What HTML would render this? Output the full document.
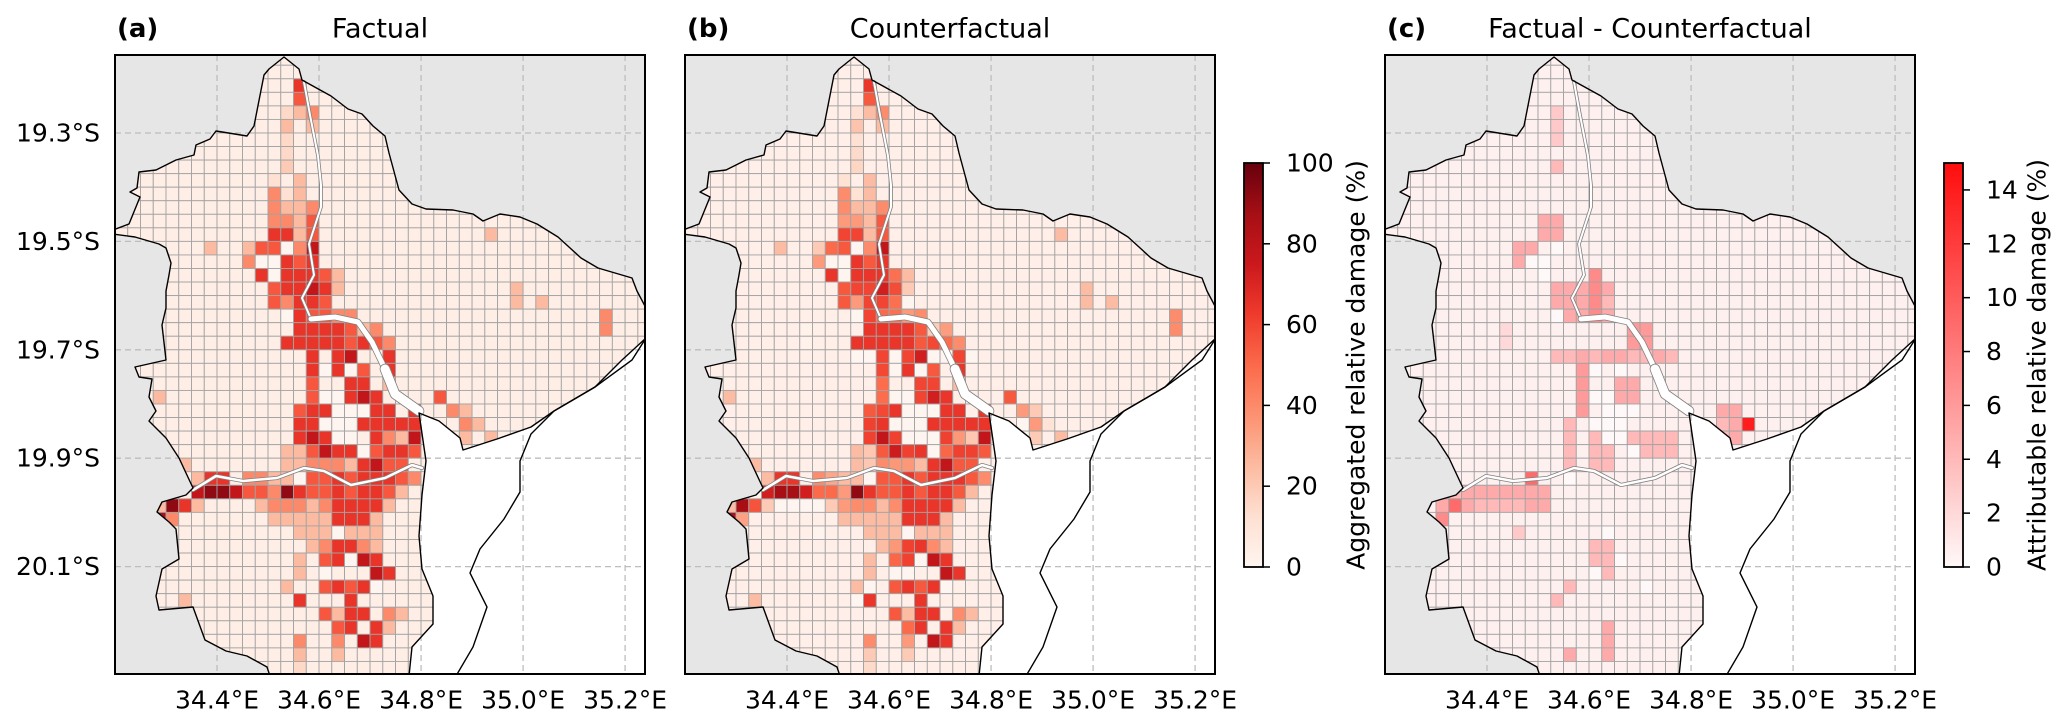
<!DOCTYPE html>
<html><head><meta charset="utf-8"><title>Factual vs Counterfactual damage</title>
<style>
html,body{margin:0;padding:0;background:#fff;}
svg{display:block;font-family:"DejaVu Sans","Liberation Sans",sans-serif;}
</style></head>
<body>
<svg id="fig" width="2067" height="727" viewBox="0 0 2067 727" xmlns="http://www.w3.org/2000/svg">
<defs>
<linearGradient id="redsGrad" x1="0" y1="1" x2="0" y2="0">
<stop offset="0" stop-color="#fff5f0"/><stop offset="0.125" stop-color="#fee0d2"/><stop offset="0.25" stop-color="#fcbba1"/><stop offset="0.375" stop-color="#fc9272"/><stop offset="0.5" stop-color="#fb6a4a"/><stop offset="0.625" stop-color="#ef3b2c"/><stop offset="0.75" stop-color="#cb181d"/><stop offset="0.875" stop-color="#a50f15"/><stop offset="1" stop-color="#67000d"/>
</linearGradient>
<linearGradient id="diffGrad" x1="0" y1="1" x2="0" y2="0">
<stop offset="0" stop-color="#fff8f8"/><stop offset="1" stop-color="#ff0d0d"/>
</linearGradient>
</defs>
<g id="panels"></g>
<g id="cbars"></g>
</svg>
<script>
// ---- data ----
const lonTicks = [34.4, 34.6, 34.8, 35.0, 35.2];
const latTicks = [19.3, 19.5, 19.7, 19.9, 20.1];
const lonTickLabels = ["34.4°E", "34.6°E", "34.8°E", "35.0°E", "35.2°E"];
const latTickLabels = ["19.3°S", "19.5°S", "19.7°S", "19.9°S", "20.1°S"];
const damageTicks = [0, 20, 40, 60, 80, 100];
const diffTicks = [0, 2, 4, 6, 8, 10, 12, 14];
const factualBase = 4;
const diffBase = 0.5;
// [row, col, factual damage %]
const factualCells = [
[2,14,65],[3,14,55],[4,14,25],[4,15,40],[4,13,15],[5,13,25],[5,15,25],[6,13,15],[7,13,15],[8,13,20],
[9,14,25],[9,12,12],[10,12,40],[10,13,12],[10,14,25],[11,12,40],[11,13,25],[11,14,25],[11,15,40],
[12,12,40],[12,13,40],[12,14,25],[12,15,55],[13,12,65],[13,13,65],[13,14,25],[13,15,55],[13,29,25],
[14,7,25],[14,10,25],[14,11,55],[14,12,55],[14,13,0],[14,14,40],[14,15,78],
[15,10,40],[15,11,0],[15,12,0],[15,13,65],[15,14,55],[15,15,65],
[16,11,65],[16,12,0],[16,13,65],[16,14,65],[16,15,65],[16,16,55],[16,17,25],
[17,12,55],[17,13,65],[17,14,65],[17,15,78],[17,16,65],[17,17,25],[17,31,25],
[18,12,55],[18,13,40],[18,14,65],[18,15,65],[18,16,55],[18,31,25],[18,33,25],
[19,13,0],[19,14,65],[19,15,55],[19,16,55],[19,17,40],[19,18,40],[19,38,40],
[20,14,65],[20,15,65],[20,16,65],[20,17,65],[20,18,55],[20,19,25],[20,20,40],[20,38,40],
[21,13,65],[21,14,65],[21,15,65],[21,16,65],[21,17,65],[21,18,55],[21,19,65],[21,20,55],[21,21,40],
[22,15,65],[22,17,65],[22,18,78],[22,21,65],
[23,15,65],[23,16,0],[23,17,65],[23,18,0],[23,19,55],[23,21,65],
[24,15,55],[24,18,65],[24,19,65],[24,21,25],
[25,15,55],[25,16,0],[25,17,0],[25,18,65],[25,19,78],[25,20,65],[25,25,55],[25,3,25],
[26,14,55],[26,15,65],[26,16,65],[26,17,0],[26,18,0],[26,19,0],[26,20,65],[26,21,65],[26,23,65],[26,26,40],[26,27,25],
[27,14,65],[27,15,65],[27,16,0],[27,17,0],[27,18,0],[27,19,65],[27,20,65],[27,21,65],[27,22,65],[27,23,65],[27,27,40],[27,28,25],
[28,14,65],[28,15,78],[28,16,65],[28,17,0],[28,18,0],[28,20,65],[28,21,40],[28,22,25],[28,23,78],[28,27,25],[28,29,25],
[29,13,25],[29,14,25],[29,15,55],[29,16,78],[29,17,65],[29,18,65],[29,19,0],[29,20,55],[29,21,65],[29,22,65],[29,23,55],
[30,5,25],[30,13,25],[30,14,25],[30,15,40],[30,16,40],[30,17,40],[30,18,25],[30,19,65],[30,20,78],[30,21,55],[30,22,55],
[31,6,25],[31,7,65],[31,8,65],[31,10,40],[31,11,40],[31,12,25],[31,13,25],[31,14,0],[31,15,55],[31,16,55],[31,17,65],[31,18,55],[31,19,65],[31,20,65],[31,21,65],[31,22,55],[31,23,40],
[32,6,78],[32,7,92],[32,8,92],[32,9,78],[32,10,55],[32,11,55],[32,12,40],[32,13,92],[32,14,65],[32,15,55],[32,16,55],[32,17,65],[32,18,55],[32,19,65],[32,20,65],[32,21,55],[32,22,25],
[33,3,25],[33,4,92],[33,5,65],[33,6,25],[33,11,25],[33,12,40],[33,13,40],[33,14,40],[33,15,25],[33,16,40],[33,17,65],[33,18,65],[33,19,65],[33,20,65],[33,21,25],
[34,3,85],[34,4,40],[34,12,25],[34,13,25],[34,14,25],[34,15,25],[34,16,25],[34,17,65],[34,18,65],[34,19,65],[34,20,25],
[35,14,25],[35,15,25],[35,16,25],[35,17,0],[35,18,25],[35,19,25],[35,20,25],
[36,15,25],[36,16,40],[36,17,65],[36,18,65],[36,19,40],[36,20,25],
[37,14,25],[37,16,55],[37,17,65],[37,18,0],[37,19,78],[37,20,65],
[38,14,25],[38,16,0],[38,20,78],[38,21,65],
[39,13,25],[39,16,55],[39,17,65],[39,18,55],[39,19,65],[39,20,0],
[40,5,25],[40,14,65],[40,18,65],
[41,16,55],[41,17,25],[41,18,65],[41,19,65],[41,21,40],[41,22,25],
[42,17,55],[42,18,65],[42,20,65],[42,21,25],
[43,14,40],[43,17,40],[43,19,78],[43,20,65],
[44,14,25],[44,17,25],[45,14,15]
];
// attributable damage blocks [rowStart, rowEnd, colStart, colEnd, value %]
const diffBlocks = [
[4,6,13,13,3],[8,8,13,13,4],[12,13,12,13,5],[14,15,10,11,5],[15,16,12,12,5],[16,19,16,16,7],
[17,19,13,15,5],[17,19,17,17,5],[20,21,19,20,6],[22,22,13,22,5],[23,26,15,15,6],[24,25,18,19,5],
[27,30,14,14,4],[27,30,16,17,4],[28,29,19,22,4],[27,27,28,28,14],[26,28,26,27,5],
[32,33,4,12,5],[31,31,11,11,9],[33,33,5,5,9],[34,34,4,4,7],[40,40,13,13,7],[39,39,14,14,6],
[36,38,16,17,4],[42,44,17,17,5],[44,44,14,14,5],[20,21,9,9,2],[35,35,10,10,3]
];

// ---- geometry (panel-local pixel shapes) ----
const PW = 530, PH = 619, TOP = 55;
const panelX = [115, 685, 1385];
const LON0 = 34.2, LAT0 = 19.1561, KX = 510.1, KY = 542;
const xOf = lon => (lon - LON0) * KX;
const yOf = lat => (lat - LAT0) * KY;
const region = [[169,2],[184,14],[187,25],[216,41],[233,54],[247,59],[258,71],[270,81],[274,98],[284,135],[297,149],[311,154],[338,155],[358,159],[368,166],[385,159],[405,162],[422,169],[443,182],[466,203],[483,213],[517,223],[522,236],[531,253],[531,283],[507,305],[480,332],[439,356],[416,372],[382,384],[348,395],[345,383],[324,366],[304,358],[311,406],[307,440],[304,481],[307,514],[318,541],[318,569],[297,592],[294,621],[155,621],[152,612],[132,601],[111,596],[90,585],[78,552],[44,555],[41,541],[47,514],[64,504],[61,474],[54,467],[42,457],[47,447],[71,440],[78,433],[64,403],[51,383],[34,366],[41,356],[34,342],[37,324],[24,322],[20,312],[51,305],[47,270],[51,253],[51,236],[54,220],[56,208],[51,193],[44,189],[20,182],[-2,179],[-2,175],[14,169],[25,142],[15,137],[22,133],[24,117],[41,115],[61,105],[79,100],[81,90],[95,84],[101,76],[132,81],[139,71],[149,20],[154,14]];
const sea = [[532,283],[507,305],[480,332],[439,356],[416,372],[382,384],[348,395],[345,383],[324,366],[304,358],[311,406],[307,440],[304,481],[307,514],[318,541],[318,569],[297,592],[294,621],[532,621]];
const coast = [[531,283],[517,305],[480,332],[439,356],[416,379],[405,406],[405,437],[389,464],[365,494],[355,518],[372,552],[358,592],[341,621]];
const river1 = [[189,27],[195,60],[203,101],[206,130],[206,152],[194,189],[199,220],[187,243],[196,264]];
const river2 = [[196,264],[220,262],[243,267],[257,287],[270,314]];
const river3 = [[270,314],[280,339],[304,356]];
const river4 = [[78,435],[101,421],[128,426],[162,423],[189,413],[209,416],[236,430],[270,423],[297,410],[307,413]];

const NS = "http://www.w3.org/2000/svg";
function mk(tag, attrs, parent){ const e=document.createElementNS(NS,tag); for(const k in attrs) e.setAttribute(k,attrs[k]); if(parent) parent.appendChild(e); return e; }
const pts = a => a.map(p=>p[0]+","+p[1]).join(" ");

const REDS = [[255,245,240],[254,224,210],[252,187,161],[252,146,114],[251,106,74],[239,59,44],[203,24,29],[165,15,21],[103,0,13]];
function redsColor(v){ let t=Math.max(0,Math.min(1,v/100))*8; const i=Math.min(7,Math.floor(t)), f=t-i; const a=REDS[i],b=REDS[i+1]; return "rgb("+a.map((x,j)=>Math.round(x+(b[j]-x)*f)).join(",")+")"; }
function diffColor(v){ const t=Math.max(0,Math.min(1,v/15)); const a=[255,248,248], b=[255,13,13]; return "rgb("+a.map((x,j)=>Math.round(x+(b[j]-x)*t)).join(",")+")"; }

const NROW=46, NCOL=42;
const factual = [], diff = [];
for(let r=0;r<NROW;r++){ factual.push(new Array(NCOL).fill(factualBase)); diff.push(new Array(NCOL).fill(diffBase)); }
factualCells.forEach(([r,c,v])=>{ factual[r][c]=v; });
diffBlocks.forEach(([r0,r1,c0,c1,v])=>{ for(let r=r0;r<=r1;r++) for(let c=c0;c<=c1;c++) diff[r][c]=v; });

const panelsG = document.getElementById('panels');
const titles = [["(a)","Factual"],["(b)","Counterfactual"],["(c)","Factual - Counterfactual"]];
const panelNames = ["factual","counterfactual","difference"];

panelX.forEach((px, p) => {
  const g = mk('g',{transform:`translate(${px},${TOP})`},panelsG);
  
  
  const cp = mk('clipPath',{id:'clipAx'+p},g); mk('rect',{x:0,y:0,width:PW,height:PH},cp);
  const cr = mk('clipPath',{id:'clipReg'+p},g); mk('polygon',{points:pts(region)},cr);
  const inner = mk('g',{'clip-path':`url(#clipAx${p})`},g);
  const bg = mk('rect',{x:0,y:0,width:PW,height:PH,fill:'#e6e6e6'},inner);
  
  
  const seaEl = mk('polygon',{points:pts(sea),fill:'#ffffff'},inner);
  
  
  lonTicks.forEach(lon=>{ const l=mk('line',{x1:xOf(lon),x2:xOf(lon),y1:0,y2:PH,stroke:'#bdbdbd','stroke-width':1.3,'stroke-dasharray':'6,4'},inner);
    
     });
  latTicks.forEach(lat=>{ const l=mk('line',{x1:0,x2:PW,y1:yOf(lat),y2:yOf(lat),stroke:'#bdbdbd','stroke-width':1.3,'stroke-dasharray':'6,4'},inner);
    
     });
  const cells = mk('g',{'clip-path':`url(#clipReg${p})`},inner);
  
  
  for(let r=0;r<NROW;r++) for(let c=0;c<NCOL;c++){
    const lon=34.2+0.025*c, lat=19.15+0.025*r;
    let v, col;
    if(p===0){ v=factual[r][c]; col=redsColor(v); }
    else if(p===1){ v=Math.max(0,factual[r][c]-diff[r][c]); col=redsColor(v); }
    else { v=Math.min(diff[r][c], factual[r][c]); col=diffColor(v); }
    const x0=xOf(lon), x1=xOf(lon+0.025), y0=yOf(lat), y1=yOf(lat+0.025);
    const rc = mk('rect',{x:x0.toFixed(2),y:y0.toFixed(2),width:(x1-x0).toFixed(2),height:(y1-y0).toFixed(2),fill:col,stroke:'#a3a3a3','stroke-width':0.9},cells);
    
    
  }
  [[river1,2],[river2,5],[river3,9],[river4,2.5]].forEach(([rv,w])=>{
    mk('polyline',{points:pts(rv),fill:'none',stroke:'#808080','stroke-width':w+1.6,'stroke-linejoin':'round','stroke-linecap':'round'},inner);
    const rl = mk('polyline',{points:pts(rv),fill:'none',stroke:'#ffffff','stroke-width':w,'stroke-linejoin':'round','stroke-linecap':'round'},inner);
    
    
  });
  const ol = mk('polygon',{points:pts(region),fill:'none',stroke:'#000','stroke-width':1.4,'stroke-linejoin':'round'},inner);
  
  
  const cl = mk('polyline',{points:pts(coast),fill:'none',stroke:'#000','stroke-width':1.4},inner);
  
  
  const fr = mk('rect',{x:0,y:0,width:PW,height:PH,fill:'none',stroke:'#000','stroke-width':2},g);
  
  
  lonTicks.forEach((lon,i)=>{ const t=mk('text',{x:xOf(lon),y:645,'text-anchor':'middle','dominant-baseline':'central','font-size':25,fill:'#000'},g);
    t.textContent=lonTickLabels[i];
    
     });
  if(p===0){ latTicks.forEach((lat,i)=>{ const t=mk('text',{x:-15,y:yOf(lat),'text-anchor':'end','dominant-baseline':'central','font-size':25,fill:'#000'},g);
    t.textContent=latTickLabels[i];
    
     }); }
  const pl = mk('text',{x:2,y:-26,'dominant-baseline':'central','font-size':26,'font-weight':'bold',fill:'#000'},g);
  pl.textContent=titles[p][0];
  
  
  const tt = mk('text',{x:PW/2,y:-26,'text-anchor':'middle','dominant-baseline':'central','font-size':27,fill:'#000'},g);
  tt.textContent=titles[p][1];
  
  
});

const cbG = document.getElementById('cbars');
const CB_TOP=163, CB_BOT=567, CB_W=19;
function colorbar(x, grad, ticks, vmax, label, labelX, name){
  const g = mk('g',{},cbG);
  
  
  mk('rect',{x:x,y:CB_TOP,width:CB_W,height:CB_BOT-CB_TOP,fill:`url(#${grad})`,stroke:'#000','stroke-width':1.8},g);
  ticks.forEach(v=>{ const y=CB_BOT-(v/vmax)*(CB_BOT-CB_TOP);
    mk('line',{x1:x+CB_W,x2:x+CB_W+7,y1:y,y2:y,stroke:'#000','stroke-width':1.5},g);
    const t=mk('text',{x:x+CB_W+23,y:y,'dominant-baseline':'central','font-size':25,fill:'#000'},g);
    t.textContent=String(v);
    
     });
  const lb=mk('text',{x:labelX,y:365,'text-anchor':'middle','dominant-baseline':'central','font-size':25,fill:'#000',transform:`rotate(-90 ${labelX} 365)`},g);
  lb.textContent=label;
  
  
}
colorbar(1244,'redsGrad',damageTicks,100,'Aggregated relative damage (%)',1356,'damage-colorbar');
colorbar(1944,'diffGrad',diffTicks,15,'Attributable relative damage (%)',2037,'attributable-colorbar');
</script>
</body></html>
